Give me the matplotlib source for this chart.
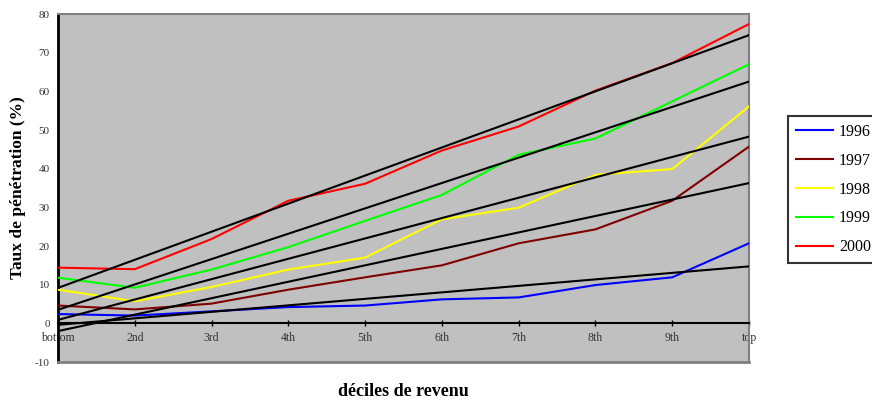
"""
Taux de pénétration par décile de revenu, 1996-2000, avec droites de tendance.
"""
import numpy as np
import matplotlib
matplotlib.use('Agg')
import matplotlib.pyplot as plt

deciles = ['bottom', '2nd', '3rd', '4th', '5th', '6th', '7th', '8th', '9th', 'top']
years = ['1996', '1997', '1998', '1999', '2000']
colors = ['#0000FF', '#800000', '#FFFF00', '#00FF00', '#FF0000']

# taux de pénétration (%)
taux_1996 = [2.4, 2.0, 3.1, 4.2, 4.6, 6.2, 6.7, 9.9, 11.9, 20.7]
taux_1997 = [4.6, 3.6, 5.1, 8.7, 11.9, 15.0, 20.7, 24.3, 31.7, 45.7]
taux_1998 = [8.7, 5.7, 9.4, 13.9, 17.0, 26.9, 29.9, 38.4, 39.9, 56.1]
taux_1999 = [11.8, 9.2, 13.9, 19.7, 26.5, 33.2, 43.6, 47.8, 57.4, 67.0]
taux_2000 = [14.4, 14.0, 21.8, 31.7, 36.1, 44.7, 50.9, 60.2, 67.3, 77.4]
series = [taux_1996, taux_1997, taux_1998, taux_1999, taux_2000]

plt.rcParams['font.family'] = ['Liberation Serif', 'DejaVu Serif']
plt.rcParams['axes.unicode_minus'] = False

fig = plt.figure(figsize=(8.72, 4.03), dpi=100)
ax = fig.add_axes([58 / 872, 1 - 362 / 403, (749 - 58) / 872, (362 - 14) / 403])
ax.set_facecolor('#C0C0C0')

x = np.arange(len(deciles))
handles = []
for year, vals, col in zip(years, series, colors):
    h, = ax.plot(x, vals, color=col, lw=1.5, label=year, zorder=3)
    handles.append(h)
    # droite de tendance linéaire
    coef = np.polyfit(x, vals, 1)
    ax.plot(x, np.polyval(coef, x), color='black', lw=1.5, zorder=4)

ax.set_xlim(0, 9)
ax.set_ylim(-10, 80)
ax.set_yticks(range(-10, 81, 10))
ax.set_xticks(x)
ax.set_xticklabels(deciles)

ax.tick_params(axis='y', length=0, pad=6, labelsize=8, labelcolor='#333333')
ax.tick_params(axis='x', direction='inout', length=4, width=1, pad=4, color='black',
               labelsize=8.5, labelcolor='#333333')

# axe des x sur la ligne zéro
ax.spines['bottom'].set_position(('data', 0))
ax.spines['bottom'].set_color('black')
ax.spines['bottom'].set_linewidth(1.5)
ax.spines['left'].set_color('black')
ax.spines['left'].set_linewidth(2)
ax.spines['top'].set_color('#808080')
ax.spines['top'].set_linewidth(1.5)
ax.spines['right'].set_color('#808080')
ax.spines['right'].set_linewidth(1.5)
ax.axhline(-10, color='#808080', lw=2, clip_on=False, zorder=5)

fig.text(18 / 872, 1 - 188 / 403, 'Taux de pénétration (%)', rotation=90,
         ha='center', va='center', fontsize=12.5, fontweight='bold')
fig.text(403 / 872, 1 - 392 / 403, 'déciles de revenu',
         ha='center', va='center', fontsize=13, fontweight='bold')

leg = fig.legend(handles, years, loc='upper left',
                 bbox_to_anchor=(788 / 872, 1 - 116 / 403),
                 prop={'size': 11.5}, frameon=True, fancybox=False,
                 handlelength=2.3, handletextpad=0.4, labelspacing=0.8,
                 borderpad=0.5, borderaxespad=0)
leg.get_frame().set_edgecolor('black')
leg.get_frame().set_linewidth(1.5)

fig.savefig('out.png', dpi=100)
